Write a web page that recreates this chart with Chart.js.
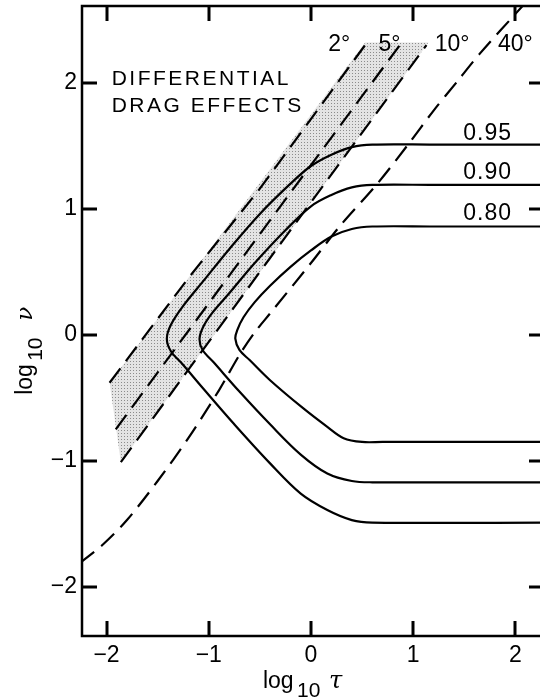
<!DOCTYPE html>
<html>
<head>
<meta charset="utf-8">
<script src="https://cdn.jsdelivr.net/npm/chart.js@4.4.1/dist/chart.umd.min.js"></script>
<style>
  html, body { margin: 0; padding: 0; background: #fff; overflow: hidden; }
  #wrap { width: 548px; height: 700px; }
</style>
</head>
<body>
<div id="wrap"><canvas id="drag" width="548" height="700"></canvas></div>
<script>
// axis ticks (log10 tau, log10 nu)
var xTicks = [-2, -1, 0, 1, 2];
var yTicks = [-2, -1, 0, 1, 2];

// solid contours, points are [log10 tau, log10 nu]
var curveNames = ['0.95', '0.90', '0.80'];
var curve95 = [[2.30, 1.51], [1.20, 1.51], [0.60, 1.51], [0.40, 1.49], [0.20, 1.43], [0.00, 1.34],
  [-0.20, 1.20], [-0.50, 0.96], [-0.80, 0.68], [-1.05, 0.43], [-1.25, 0.23], [-1.37, 0.08],
  [-1.41, -0.03], [-1.37, -0.13], [-1.26, -0.23], [-1.05, -0.43], [-0.75, -0.71], [-0.40, -1.02],
  [-0.10, -1.26], [0.16, -1.39], [0.40, -1.47], [0.60, -1.49], [2.30, -1.49]];
var curve90 = [[2.30, 1.19], [1.20, 1.19], [0.60, 1.19], [0.40, 1.17], [0.20, 1.11], [0.00, 1.02],
  [-0.25, 0.83], [-0.55, 0.57], [-0.80, 0.33], [-0.96, 0.18], [-1.05, 0.07], [-1.09, -0.03],
  [-1.06, -0.12], [-0.95, -0.22], [-0.70, -0.45], [-0.40, -0.71], [-0.10, -0.95], [0.16, -1.10],
  [0.40, -1.16], [0.60, -1.17], [2.30, -1.17]];
var curve80 = [[2.30, 0.86], [1.20, 0.86], [0.60, 0.86], [0.40, 0.84], [0.20, 0.78], [0.00, 0.67],
  [-0.20, 0.54], [-0.40, 0.39], [-0.55, 0.26], [-0.66, 0.14], [-0.72, 0.04], [-0.74, -0.03],
  [-0.70, -0.12], [-0.60, -0.20], [-0.40, -0.36], [-0.08, -0.58], [0.16, -0.73], [0.32, -0.82],
  [0.50, -0.85], [0.70, -0.85], [2.30, -0.85]];

// dashed angle lines
var angleNames = ['2\u00b0', '5\u00b0', '10\u00b0', '40\u00b0'];
var line2 = [[-1.97, -0.38], [-1.20, 0.45], [-0.50, 1.16], [0.53, 2.30]];
var line5 = [[-1.91, -0.75], [-0.50, 0.80], [0.87, 2.30]];
var line10 = [[-1.86, -1.01], [-0.40, 0.61], [1.13, 2.30]];
var line40 = [[-2.26, -1.81], [-2.03, -1.66], [-1.80, -1.47], [-1.50, -1.16], [-1.20, -0.82],
  [-0.90, -0.44], [-0.70, -0.16], [-0.55, 0.02], [-0.40, 0.17], [0.00, 0.57], [0.28, 0.86],
  [0.65, 1.20], [0.95, 1.51], [1.20, 1.78], [1.43, 2.01], [1.65, 2.23], [2.07, 2.61]];

// shaded band between the 2 and 10 degree lines
var band = [[-1.97, -0.38], [0.53, 2.32], [1.15, 2.32], [-1.86, -1.01], [-1.97, -0.38]];

var noteLines = ['DIFFERENTIAL', 'DRAG EFFECTS'];

function pts(arr) {
  return arr.map(function (p) { return { x: p[0], y: p[1] }; });
}

function minus(v) {
  return v < 0 ? '\u2212' + Math.abs(v) : String(v);
}

function stipple() {
  var c = document.createElement('canvas');
  c.width = 3; c.height = 3;
  var g = c.getContext('2d');
  g.fillStyle = '#e4e4e4';
  g.fillRect(0, 0, 3, 3);
  g.fillStyle = '#8c8c8c';
  g.fillRect(1, 1, 1, 1);
  return g.createPattern(c, 'repeat');
}

function solid(arr) {
  return { data: pts(arr), showLine: true, borderColor: '#000', borderWidth: 2.2,
    pointRadius: 0, tension: 0.35, fill: false, order: 0 };
}

function dashed(arr, t) {
  return { data: pts(arr), showLine: true, borderColor: '#000', borderWidth: 2.2,
    borderDash: [18, 9], pointRadius: 0, tension: t, fill: false, order: 0 };
}

var font = '"Liberation Sans", Arial, sans-serif';

// inward tick marks on all four sides
function drawTicks(ctx, a, xs, ys) {
  ctx.fillStyle = '#000';
  xTicks.forEach(function (v) {
    var px = Math.round(xs.getPixelForValue(v));
    ctx.fillRect(px - 1.5, a.bottom - 15, 3, 15);
    ctx.fillRect(px - 1.5, a.top, 3, 15);
  });
  yTicks.forEach(function (v) {
    var py = Math.round(ys.getPixelForValue(v));
    ctx.fillRect(a.left, py - 1.5, 15, 3);
    ctx.fillRect(a.right - 15, py - 1.5, 15, 3);
  });
}

// frame, labels and axis titles
var frame = {
  id: 'frame',
  afterDraw: function (chart) {
    var ctx = chart.ctx, a = chart.chartArea;
    var xs = chart.scales.x, ys = chart.scales.y;
    ctx.save();
    ctx.setLineDash([]);
    ctx.strokeStyle = '#000';
    ctx.lineWidth = 2.5;
    ctx.strokeRect(a.left, a.top, a.right - a.left, a.bottom - a.top);
    drawTicks(ctx, a, xs, ys);

    ctx.fillStyle = '#000';
    ctx.textAlign = 'left';
    ctx.textBaseline = 'alphabetic';

    ctx.font = '21px ' + font;
    ctx.letterSpacing = '2.5px';
    ctx.fillText(noteLines[0], xs.getPixelForValue(-1.95), ys.getPixelForValue(1.98));
    ctx.fillText(noteLines[1], xs.getPixelForValue(-1.95), ys.getPixelForValue(1.77));

    ctx.font = '23px ' + font;
    ctx.letterSpacing = '0px';
    var ax = [0.17, 0.66, 1.21, 1.83];
    angleNames.forEach(function (s, i) {
      ctx.fillText(s, xs.getPixelForValue(ax[i]), ys.getPixelForValue(2.25));
    });
    ctx.letterSpacing = '1px';
    var cy = [1.55, 1.24, 0.91];
    curveNames.forEach(function (s, i) {
      ctx.fillText(s, xs.getPixelForValue(1.49), ys.getPixelForValue(cy[i]));
    });
    ctx.letterSpacing = '0px';

    // x title: log10 tau
    var tx = xs.getPixelForValue(0) - 48, ty = a.bottom + 52;
    ctx.font = '23px ' + font;
    ctx.fillText('log', tx, ty);
    ctx.font = '21px ' + font;
    ctx.fillText('10', tx + 34, ty + 9);
    ctx.font = 'italic 24px "DejaVu Serif", serif';
    ctx.fillText('\u03c4', tx + 66, ty);

    // y title: log10 nu
    ctx.translate(a.left - 50, ys.getPixelForValue(0) + 60);
    ctx.rotate(-Math.PI / 2);
    ctx.font = '23px ' + font;
    ctx.fillText('log', 0, 0);
    ctx.font = '21px ' + font;
    ctx.fillText('10', 34, 10);
    ctx.font = 'italic 23px "DejaVu Serif", serif';
    ctx.fillText('\u03bd', 74, 0);
    ctx.restore();
  }
};

var tickFont = { family: font, size: 23 };

new Chart(document.getElementById('drag'), {
  type: 'scatter',
  data: {
    datasets: [
      { data: pts(band), showLine: true, borderWidth: 0, borderColor: 'rgba(0,0,0,0)',
        backgroundColor: stipple(), fill: 'shape', pointRadius: 0, tension: 0, order: 1 },
      dashed(line2, 0),
      dashed(line5, 0),
      dashed(line10, 0),
      dashed(line40, 0.3),
      solid(curve95),
      solid(curve90),
      solid(curve80)
    ]
  },
  options: {
    responsive: false,
    animation: false,
    devicePixelRatio: 1,
    layout: { padding: { top: 6, right: 4, left: 0, bottom: 0 } },
    plugins: { legend: { display: false }, tooltip: { enabled: false }, title: { display: false } },
    scales: {
      x: {
        type: 'linear', min: -2.24, max: 2.28,
        afterBuildTicks: function (s) { s.ticks = xTicks.map(function (v) { return { value: v }; }); },
        afterFit: function (s) { s.height = 64; s.paddingLeft = 0; s.paddingRight = 0; },
        grid: { display: false, drawTicks: false },
        border: { display: false },
        ticks: { padding: 6, color: '#000', font: tickFont, autoSkip: false, maxRotation: 0,
          callback: function (v) { return minus(v); } }
      },
      y: {
        type: 'linear', min: -2.39, max: 2.61,
        afterBuildTicks: function (s) { s.ticks = yTicks.map(function (v) { return { value: v }; }); },
        afterFit: function (s) { s.width = 82; s.paddingTop = 0; s.paddingBottom = 0; },
        grid: { display: false, drawTicks: false },
        border: { display: false },
        ticks: { padding: 5, color: '#000', font: tickFont, autoSkip: false,
          callback: function (v) { return minus(v); } }
      }
    }
  },
  plugins: [frame]
});
</script>
</body>
</html>
